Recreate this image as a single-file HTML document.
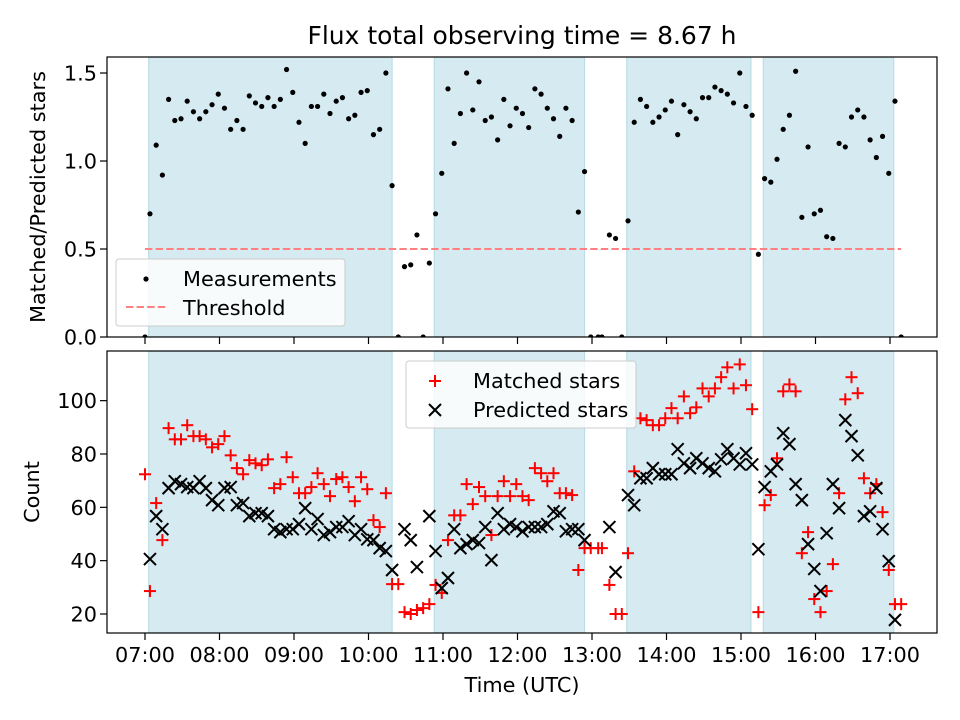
<!DOCTYPE html>
<html><head><meta charset="utf-8"><style>
html,body{margin:0;padding:0;background:#fff}
svg{display:block;font-family:"DejaVu Sans","Liberation Sans",sans-serif}
</style></head><body>
<svg id="fig" width="960" height="720" viewBox="0 0 960 720" xmlns="http://www.w3.org/2000/svg">
<rect x="0" y="0" width="960" height="720" fill="#fff"/>
<text x="522" y="44" text-anchor="middle" font-size="25">Flux total observing time = 8.67 h</text>
<g id="topPanel"></g>
<g id="botPanel"></g>
<text transform="translate(45,197) rotate(-90)" text-anchor="middle" font-size="20.8">Matched/Predicted stars</text>
<text transform="translate(39,492) rotate(-90)" text-anchor="middle" font-size="20.8">Count</text>
<text x="522" y="692" text-anchor="middle" font-size="20.8">Time (UTC)</text>
</svg>
<script>
// minutes after 07:00 UTC
const times = [0,4,9,14,19,24,29,34,39,44,49,54,59,64,69,74,79,84,89,94,99,104,109,114,119,124,129,134,139,144,149,154,159,164,169,174,179,184,189,194,199,204,209,214,219,224,229,234,239,244,249,254,259,264,269,274,279,284,289,294,299,304,309,314,319,324,329,334,339,344,349,354,359,365,368,374,379,384,389,394,399,404,409,414,419,424,429,434,439,444,449,454,459,464,469,474,479,484,489,494,499,504,509,514,519,524,529,534,539,544,549,554,559,564,569,574,579,584,589,594,599,604,609];
const ratio = [0,0.70,1.09,0.92,1.35,1.23,1.24,1.34,1.28,1.24,1.28,1.32,1.38,1.30,1.18,1.23,1.18,1.37,1.33,1.31,1.36,1.31,1.35,1.52,1.39,1.22,1.10,1.31,1.31,1.38,1.27,1.34,1.36,1.24,1.26,1.39,1.40,1.15,1.18,1.50,0.86,0,0.40,0.41,0.58,0,0.42,0.70,0.93,1.41,1.10,1.27,1.50,1.29,1.45,1.23,1.25,1.12,1.35,1.20,1.30,1.27,1.19,1.41,1.38,1.30,1.24,1.14,1.30,1.23,0.71,0.94,0,0,0,0.58,0.56,0,0.66,1.22,1.35,1.31,1.22,1.25,1.29,1.34,1.15,1.32,1.28,1.24,1.36,1.36,1.42,1.40,1.38,1.33,1.50,1.31,1.26,0.47,0.90,0.88,1.01,1.18,1.26,1.51,0.68,1.08,0.70,0.72,0.57,0.56,1.10,1.08,1.25,1.29,1.25,1.12,1.02,1.14,0.93,1.34,0];
const matched = [72.4,28.6,61.6,47.7,89.7,85.5,85.5,90.8,86.7,86.7,85.5,82.5,83.7,86.7,79.5,74.7,72.4,77.7,76.5,75.8,78.0,67.2,68.7,78.8,71.3,65.3,65.3,67.6,72.8,68.7,64.2,70.6,71.3,67.6,62.3,71.3,66.8,55.2,52.6,65.3,31.2,31.2,20.7,20,21.5,22.2,23.7,30.9,27.9,47.7,57,57,68.7,61.2,67.6,64.2,49.6,64.2,69.8,64.2,68.7,64.2,62.7,74.7,72.8,69.8,72.8,65.3,65.3,64.6,36.5,44.7,44.7,44.7,44.7,30.9,20,20,42.8,73.5,93.4,92.7,90.8,90.8,93.4,97.2,93.4,101.6,95.3,97.5,104.6,101.6,104.6,108.8,112.5,104.6,113.6,105.8,96.8,20.7,60.8,64.6,78.4,103.5,106.1,103.5,42.8,50.7,25.6,20.7,28.6,38.7,65.3,100.5,108.8,102.8,70.9,65.3,68.7,58.2,36.5,23.7,23.7];
const predicted = [null,40.6,56.7,51.8,67.2,69.8,68.7,67.6,67.2,69.8,67.2,62.7,60.8,67.2,67.6,60.8,61.6,56.7,57.8,57.8,56.7,51.8,50.7,51.8,51.8,53.7,59.7,51.8,55.6,49.6,50.7,52.6,52.6,54.8,49.6,51.8,48.0,47.7,44.7,43.6,36.5,null,51.8,47.7,37.6,null,56.7,43.6,29.7,33.5,51.8,44.7,46.2,47.7,46.6,52.6,40.2,57.8,51.8,53.7,52.6,51,52.6,52.6,52.6,53.7,58.5,57.8,51,51.8,51.8,47.7,null,null,null,52.6,35.7,null,64.6,60.8,70.9,70.9,74.7,72.4,72.4,72.4,81.8,76.5,74.7,78.4,76.5,74.7,73.5,78,81.8,78.4,76.1,80.3,76.1,44.3,67.6,73.5,76.1,87.8,83.7,68.7,62.7,46.2,36.9,28.6,50.3,68.7,59.7,92.7,86.7,79.5,56.7,58.5,67.2,51.8,39.8,17.8,null];
const spanStarts = [3,233,388,498];
const spanEnds = [199,354,488,603];
const threshold = 0.5;
const xTickLabels = ["07:00","08:00","09:00","10:00","11:00","12:00","13:00","14:00","15:00","16:00","17:00"];
const topTicks = [0,0.5,1.0,1.5];
const botTicks = [20,40,60,80,100];

const NS="http://www.w3.org/2000/svg";
const X0=107,X1=937;
const TY0=57,TY1=337,BY0=351,BY1=633;
const FS=20.8;
const xs = m => 145 + m*74.5/60;
const yTop = v => 337 - v*176;
const yBot = v => 614 - (v-20)*2.6667;
function mk(tag,attrs,parent){const e=document.createElementNS(NS,tag);for(const k in attrs)e.setAttribute(k,attrs[k]);parent.appendChild(e);return e;}

function panel(g,y0,y1,name){
  const clip=mk('clipPath',{id:'clip-'+name},g);
  mk('rect',{x:X0,y:y0,width:X1-X0,height:y1-y0},clip);
  const inner=mk('g',{'clip-path':'url(#clip-'+name+')'},g);
  for(let i=0;i<spanStarts.length;i++){
    const r=mk('rect',{x:xs(spanStarts[i]),y:y0,width:xs(spanEnds[i])-xs(spanStarts[i]),height:y1-y0,fill:'#d5eaf1',stroke:'#bcdde8','stroke-width':1.2},inner);
    
    
  }
  return inner;
}
function frame(g,y0,y1,name,showLabels){
  const f=mk('rect',{x:X0,y:y0,width:X1-X0,height:y1-y0,fill:'none',stroke:'#000','stroke-width':1.2},g);
  
  
  xTickLabels.forEach((lab,i)=>{
    const x=xs(i*60);
    mk('line',{x1:x,y1:y1,x2:x,y2:y1+7,stroke:'#000','stroke-width':1.2},g);
    if(showLabels){
      const t=mk('text',{x:x,y:662,'text-anchor':'middle','font-size':FS},g);
      t.textContent=lab;
      
      
    }
  });
}

// top panel
const topG=document.getElementById('topPanel');
const ti=panel(topG,TY0,TY1,'top');
const th=mk('line',{x1:xs(0),x2:xs(609),y1:yTop(threshold),y2:yTop(threshold),stroke:'#ff8080','stroke-width':2,'stroke-dasharray':'7.4,3.2'},ti);


times.forEach((m,i)=>{
  const c=mk('circle',{cx:xs(m),cy:yTop(ratio[i]),r:2.6,fill:'#000'},ti);
  
  
});
frame(topG,TY0,TY1,'top',false);
topTicks.forEach(v=>{
  const y=yTop(v);
  mk('line',{x1:X0-7,x2:X0,y1:y,y2:y,stroke:'#000','stroke-width':1.2},topG);
  const t=mk('text',{x:X0-10,y:y+7.5,'text-anchor':'end','font-size':FS},topG);
  t.textContent=v.toFixed(1);
  
  
});
const lg=mk('g',{},topG);


mk('rect',{x:116,y:259,width:229,height:67,rx:3,fill:'#fff','fill-opacity':0.8,stroke:'#ccc'},lg);
mk('circle',{cx:146,cy:279,r:2.6,fill:'#000'},lg);
const t1=mk('text',{x:183,y:286,'font-size':FS},lg);t1.textContent='Measurements';


mk('line',{x1:126,x2:166,y1:307,y2:307,stroke:'#ff8080','stroke-width':2,'stroke-dasharray':'7.4,3.2'},lg);
const t2=mk('text',{x:183,y:315,'font-size':FS},lg);t2.textContent='Threshold';



// bottom panel
const botG=document.getElementById('botPanel');
const bi=panel(botG,BY0,BY1,'bottom');
function plus(x,y,p,col){const g=mk('g',{},p);mk('line',{x1:x-6,x2:x+6,y1:y,y2:y,stroke:col,'stroke-width':2},g);mk('line',{x1:x,x2:x,y1:y-6,y2:y+6,stroke:col,'stroke-width':2},g);return g;}
function cross(x,y,p,col){const g=mk('g',{},p);mk('line',{x1:x-6,x2:x+6,y1:y-6,y2:y+6,stroke:col,'stroke-width':2},g);mk('line',{x1:x-6,x2:x+6,y1:y+6,y2:y-6,stroke:col,'stroke-width':2},g);return g;}
times.forEach((m,i)=>{
  if(matched[i]!=null){
    const g=plus(xs(m),yBot(matched[i]),bi,'#ff0000');
    
    
  }
});
times.forEach((m,i)=>{
  if(predicted[i]!=null){
    const g=cross(xs(m),yBot(predicted[i]),bi,'#000');
    
    
  }
});
frame(botG,BY0,BY1,'bottom',true);
botTicks.forEach(v=>{
  const y=yBot(v);
  mk('line',{x1:X0-7,x2:X0,y1:y,y2:y,stroke:'#000','stroke-width':1.2},botG);
  const t=mk('text',{x:X0-10,y:y+7.5,'text-anchor':'end','font-size':FS},botG);
  t.textContent=String(v);
  
  
});
const lg2=mk('g',{},botG);


mk('rect',{x:406,y:361,width:230,height:67,rx:3,fill:'#fff','fill-opacity':0.8,stroke:'#ccc'},lg2);
plus(435,381,lg2,'#ff0000');
const t3=mk('text',{x:473,y:388,'font-size':FS},lg2);t3.textContent='Matched stars';


cross(435,410,lg2,'#000');
const t4=mk('text',{x:473,y:417,'font-size':FS},lg2);t4.textContent='Predicted stars';


</script>
</body></html>
